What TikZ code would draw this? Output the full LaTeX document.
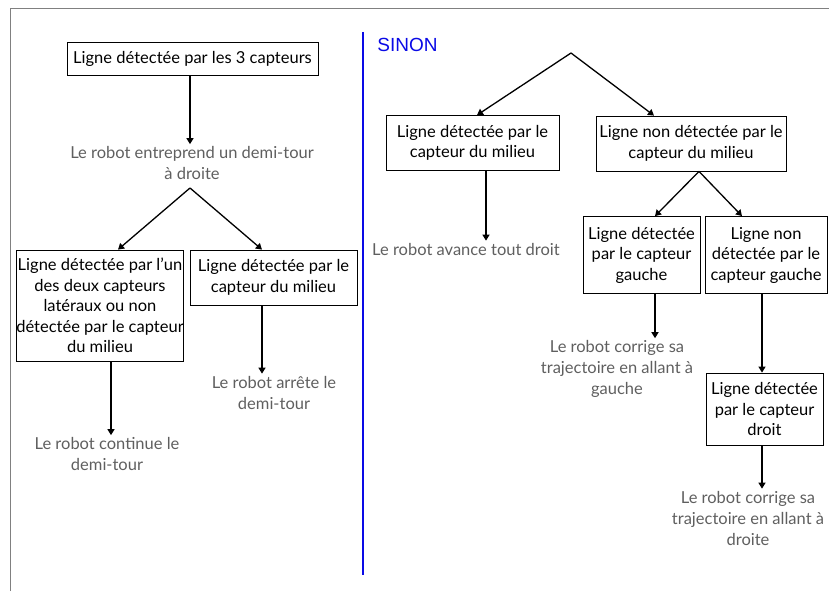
\documentclass[tikz,border=0pt]{standalone}
\usepackage{fontspec}
\setmainfont{Lato}
\newfontfamily\titlefont{Liberation Sans}
\usetikzlibrary{arrows.meta}
\definecolor{notegray}{RGB}{95,95,95}
\definecolor{sinonblue}{RGB}{10,10,230}
\tikzset{
  box/.style={draw=black, line width=0.8pt, align=center, inner sep=0pt,
    font=\fontsize{16.5}{20.5}\selectfont},
  note/.style={align=center, text=notegray, inner sep=2pt,
    font=\fontsize{16.5}{21}\selectfont},
  arr/.style={line width=1.3pt, -{Triangle[length=6pt,width=7pt]}},
}
\begin{document}
\begin{tikzpicture}[x=1pt, y=-1pt]
                \useasboundingbox (0,0) rectangle (829,591);
                
                % Drawing frame
                \draw [line width=0.8pt, gray] (10,591) -- (10,8) -- (829,8);%
                
                % Drawing separator
                \draw [line width=1.1pt, sinonblue] (363,32) -- (363,575);%
                
                % Left part
                \node [box, minimum width=251pt, minimum height=33pt] (capt3) at (192.5,58.5) {Ligne détectée par les 3 capteurs};%
                \node [note] (demitour) at (192,163) {Le robot entreprend un demi-tour\\à droite};%
                \coordinate (fork1) at (190,188);%
                \node [box, minimum width=167pt, minimum height=111pt] (lateral) at (100,305.5) {Ligne détectée par l’un\\des deux capteurs\\latéraux ou non\\détectée par le capteur\\du milieu};%
                \node [box, minimum width=167pt, minimum height=55pt] (milieuL) at (273.5,277.5) {Ligne détectée par le\\capteur du milieu};%
                \node [note] (continue) at (107,454) {Le robot continue le\\demi-tour};%
                \node [note] (arrete) at (274,392.5) {Le robot arrête le\\demi-tour};%
                
                % Drawing segments of left part
                \draw [arr] ([xshift=-2.5pt]capt3.south) -- ([xshift=-2.5pt]capt3.south |- demitour.north);%
                \draw [arr] (fork1) -- ([xshift=18pt]lateral.north);%
                \draw [arr] (fork1) -- ([xshift=-11.5pt]milieuL.north);%
                \draw [arr] ([xshift=11pt]lateral.south) -- ([xshift=11pt]lateral.south |- continue.north);%
                \draw [arr] ([xshift=-11.5pt]milieuL.south) -- ([xshift=-11.5pt]milieuL.south |- arrete.north);%
                
                % Right part
                \node [inner sep=0pt, text=sinonblue, font=\titlefont\fontsize{19}{20}\selectfont] (sinon) at (407.5,45) {SINON};%
                \coordinate (fork2) at (571,53);%
                \node [box, minimum width=173pt, minimum height=55pt] (milieuR) at (472.5,143) {Ligne détectée par le\\capteur du milieu};%
                \node [box, minimum width=190pt, minimum height=55pt] (nonmilieu) at (691,143.5) {Ligne non détectée par le\\capteur du milieu};%
                \node [note] (avance) at (466,249) {Le robot avance tout droit};%
                \coordinate (fork3) at ([xshift=8pt]nonmilieu.south);%
                \node [box, minimum width=117pt, minimum height=77pt] (gauche) at (641.5,255) {Ligne détectée\\par le capteur\\gauche};%
                \node [box, minimum width=122pt, minimum height=77pt] (nongauche) at (766,255) {Ligne non\\détectée par le\\capteur gauche};%
                \node [note] (corrgauche) at (617,369) {Le robot corrige sa\\trajectoire en allant à\\gauche};%
                \node [box, minimum width=117pt, minimum height=72pt] (droit) at (764.5,409) {Ligne détectée\\par le capteur\\droit};%
                \node [note] (corrdroit) at (748,518) {Le robot corrige sa\\trajectoire en allant à\\droite};%
                
                % Drawing segments of right part
                \draw [arr] (fork2) -- ([xshift=4.5pt]milieuR.north);%
                \draw [arr] (fork2) -- ([xshift=-37pt]nonmilieu.north);%
                \draw [arr] ([xshift=13.5pt]milieuR.south) -- ([xshift=13.5pt]milieuR.south |- avance.north);%
                \draw [arr] (fork3) -- ([xshift=13.5pt]gauche.north);%
                \draw [arr] (fork3) -- ([xshift=-24pt]nongauche.north);%
                \draw [arr] ([xshift=13.5pt]gauche.south) -- ([xshift=13.5pt]gauche.south |- corrgauche.north);%
                \draw [arr] ([xshift=-4pt]nongauche.south) -- ([xshift=-4pt]nongauche.south |- droit.north);%
                \draw [arr] ([xshift=-2.5pt]droit.south) -- ([xshift=-2.5pt]droit.south |- corrdroit.north);%
\end{tikzpicture}
\end{document}
